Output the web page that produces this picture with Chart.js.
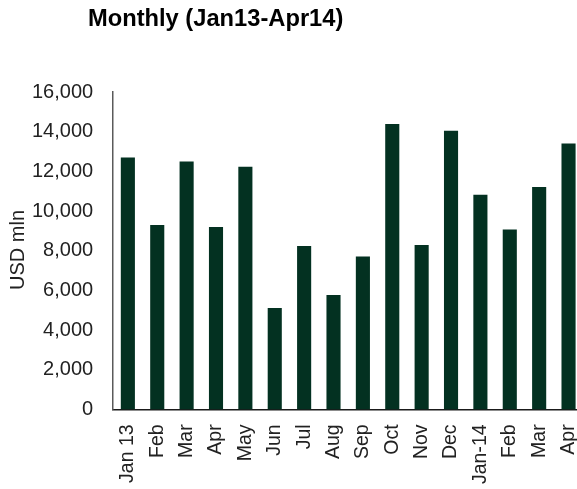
<!DOCTYPE html>
<html>
<head>
<meta charset="utf-8">
<script src="https://cdn.jsdelivr.net/npm/chart.js@4"></script>
<style>
  html, body { margin: 0; padding: 0; background: #fff; overflow: hidden; }
  #wrap { position: relative; width: 607px; height: 503px; }
</style>
</head>
<body>
<div id="wrap"><canvas id="graphCanvas"></canvas></div>
<script>
// Data
const months = ['Jan 13', 'Feb', 'Mar', 'Apr', 'May', 'Jun', 'Jul', 'Aug', 'Sep', 'Oct', 'Nov', 'Dec', 'Jan-14', 'Feb', 'Mar', 'Apr'];
const values = [12700, 9300, 12500, 9200, 12230, 5110, 8240, 5770, 7710, 14390, 8290, 14050, 10820, 9070, 11210, 13410];
const yTicks = [0, 2000, 4000, 6000, 8000, 10000, 12000, 14000, 16000];
const titleText = 'Monthly (Jan13-Apr14)';
const yTitle = 'USD mln';

const FONT = '"Liberation Sans", Arial, sans-serif';

// Title at the top left and the y axis title, drawn by hand
const extraText = {
  id: 'extraText',
  afterDraw(chart) {
    const ctx = chart.ctx;
    ctx.save();
    ctx.fillStyle = '#000';
    ctx.textBaseline = 'middle';
    ctx.textAlign = 'left';
    ctx.font = 'bold 23.7px ' + FONT;
    ctx.fillText(titleText, 88, 19);

    ctx.fillStyle = '#222';
    ctx.font = '20px ' + FONT;
    ctx.textAlign = 'center';
    ctx.translate(18, 250);
    ctx.rotate(-Math.PI / 2);
    ctx.fillText(yTitle, 0, 0);
    ctx.restore();
  }
};

const canvas = document.getElementById('graphCanvas');
const chart = new Chart(canvas.getContext('2d'), {
  type: 'bar',
  data: {
    labels: months,
    datasets: [{
      data: values,
      backgroundColor: '#033121',
      borderWidth: 0,
      barPercentage: 0.48,
      categoryPercentage: 1
    }]
  },
  options: {
    responsive: true,
    maintainAspectRatio: false,
    animation: false,
    layout: { padding: { top: 92, left: 12, right: 2, bottom: 4 } },
    plugins: {
      legend: { display: false },
      tooltip: { enabled: false },
      title: { display: false }
    },
    scales: {
      x: {
        grid: { display: false, drawTicks: false },
        border: { color: '#1a1a1a', width: 1.5 },
        ticks: {
          color: '#222',
          font: { family: FONT, size: 19.5 },
          maxRotation: 90,
          minRotation: 90,
          padding: 15,
          autoSkip: false
        }
      },
      y: {
        min: 0,
        max: 16000,
        afterBuildTicks(scale) {
          scale.ticks = yTicks.map(v => ({ value: v }));
        },
        grid: { display: false, drawTicks: false },
        border: { color: '#5a5a5a', width: 1.5 },
        ticks: {
          color: '#222',
          font: { family: FONT, size: 20 },
          padding: 20,
          callback: v => v.toLocaleString('en-US')
        }
      }
    }
  },
  plugins: [extraText]
});
</script>
</body>
</html>
